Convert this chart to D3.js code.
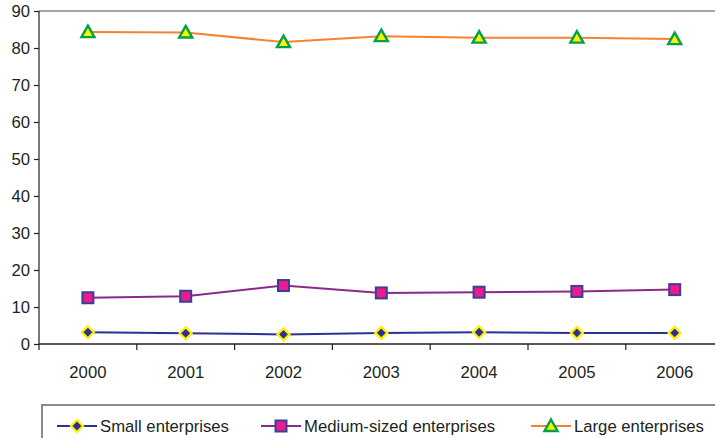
<!DOCTYPE html>
<html>
<head>
<meta charset="utf-8">
<script src="https://cdn.jsdelivr.net/npm/d3@7"></script>
<style>
  html, body { margin: 0; padding: 0; background: #fff; overflow: hidden; }
  svg { display: block; font-family: "Liberation Sans", Arial, sans-serif; }
</style>
</head>
<body>
<svg id="chart" width="715" height="438"></svg>
<script>
// Share of enterprises by size class, 2000–2006 (%)
const years = ["2000", "2001", "2002", "2003", "2004", "2005", "2006"];
const smallValues  = [3.2, 2.9, 2.6, 3.0, 3.2, 3.0, 3.0];
const mediumValues = [12.5, 12.9, 15.8, 13.8, 14.0, 14.2, 14.7];
const largeValues  = [84.3, 84.2, 81.6, 83.2, 82.8, 82.8, 82.4];
const yTicks = [0, 10, 20, 30, 40, 50, 60, 70, 80, 90];
const seriesNames = ["Small enterprises", "Medium-sized enterprises", "Large enterprises"];

const series = [
  { name: seriesNames[0], values: smallValues,  line: "#2e3192", marker: "diamond" },
  { name: seriesNames[1], values: mediumValues, line: "#8b2a8c", marker: "square" },
  { name: seriesNames[2], values: largeValues,  line: "#f58231", marker: "triangle" }
];

const svg = d3.select("#chart");
const plotLeft = 39, plotTop = 11, plotW = 97.8 * 7, plotH = 333;
const textColor = "#231f20";
const fontSize = "16.7px";

const x = d3.scaleBand().domain(years).range([plotLeft, plotLeft + plotW]);
const y = d3.scaleLinear().domain([0, 90]).range([plotTop + plotH, plotTop]);

// top frame line
svg.append("line")
  .attr("x1", plotLeft).attr("x2", plotLeft + plotW)
  .attr("y1", plotTop).attr("y2", plotTop)
  .attr("stroke", "#8a8a8a").attr("stroke-width", 1.5);

// y axis
const yAxis = svg.append("g")
  .attr("transform", `translate(${plotLeft},0)`)
  .call(d3.axisLeft(y).tickValues(yTicks).tickSize(5).tickPadding(4).tickFormat(d3.format("d")));
yAxis.selectAll("path, line").attr("stroke", textColor).attr("stroke-width", 1.2);
yAxis.select(".domain").attr("d", `M0,${plotTop}V${plotTop + plotH}`);
yAxis.selectAll("text").attr("fill", textColor).style("font-size", fontSize)
  .style("font-family", "'Liberation Sans', Arial, sans-serif");

// x axis with ticks between categories
const xAxisG = svg.append("g").attr("transform", `translate(0,${plotTop + plotH})`);
xAxisG.append("line").attr("x1", plotLeft).attr("x2", plotLeft + plotW)
  .attr("stroke", textColor).attr("stroke-width", 1.5);
const boundaries = years.map((d) => x(d)).concat([x(years[years.length - 1]) + x.bandwidth()]);
xAxisG.selectAll("line.tick").data(boundaries).join("line")
  .attr("class", "tick")
  .attr("x1", (d) => d).attr("x2", (d) => d)
  .attr("y1", 0).attr("y2", 6)
  .attr("stroke", textColor).attr("stroke-width", 1.2);
xAxisG.selectAll("text").data(years).join("text")
  .attr("x", (d) => x(d) + x.bandwidth() / 2)
  .attr("y", 34)
  .attr("text-anchor", "middle")
  .attr("fill", textColor)
  .style("font-size", fontSize)
  .text((d) => d);

// marker drawing
function drawMarker(g, type) {
  if (type === "diamond") {
    g.append("path").attr("d", "M0,-6L6,0L0,6L-6,0Z").attr("fill", "#2e3192")
      .attr("stroke", "#fff200").attr("stroke-width", 2.2);
  } else if (type === "square") {
    g.append("rect").attr("x", -5.5).attr("y", -5.5).attr("width", 11).attr("height", 11)
      .attr("fill", "#ec1a8c").attr("stroke", "#3b3f96").attr("stroke-width", 2);
  } else {
    g.append("path").attr("d", "M0,-6.5L6.5,5L-6.5,5Z").attr("fill", "#fff200")
      .attr("stroke", "#00a14b").attr("stroke-width", 2.4).attr("stroke-linejoin", "miter");
  }
}

const cx = (d, i) => x(years[i]) + x.bandwidth() / 2;
const line = d3.line().x(cx).y((d) => y(d));

series.forEach((s) => {
  svg.append("path")
    .datum(s.values)
    .attr("d", line)
    .attr("fill", "none")
    .attr("stroke", s.line)
    .attr("stroke-width", 2);
  s.values.forEach((v, i) => {
    const g = svg.append("g").attr("transform", `translate(${cx(v, i)},${y(v)})`);
    drawMarker(g, s.marker);
  });
});

// legend
const legendTop = 405;
svg.append("rect")
  .attr("x", 42).attr("y", legendTop)
  .attr("width", 700).attr("height", 60)
  .attr("fill", "none").attr("stroke", "#8a8a8a").attr("stroke-width", 2);

const legendX = [57, 261, 531];
series.forEach((s, i) => {
  const lg = svg.append("g").attr("transform", `translate(${legendX[i]},${legendTop + 21})`);
  lg.append("line").attr("x1", 0).attr("x2", 40).attr("y1", 0).attr("y2", 0)
    .attr("stroke", s.line).attr("stroke-width", 2);
  const m = lg.append("g").attr("transform", "translate(20,0)");
  drawMarker(m, s.marker);
  lg.append("text").attr("x", 43).attr("y", 6)
    .attr("fill", textColor).style("font-size", fontSize)
    .text(s.name);
});
</script>
</body>
</html>
